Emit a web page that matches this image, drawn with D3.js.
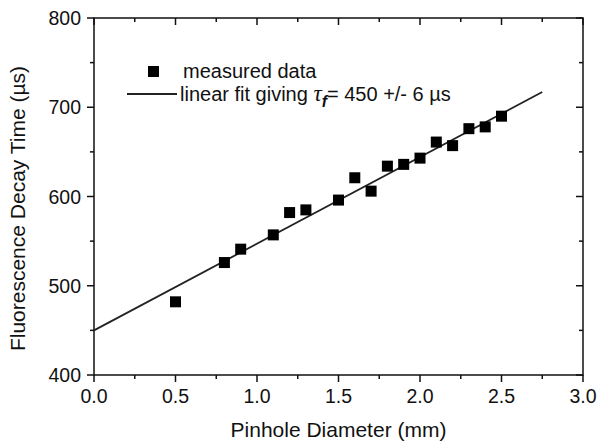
<!DOCTYPE html>
<html>
<head>
<meta charset="utf-8">
<script src="https://cdn.jsdelivr.net/npm/d3@7"></script>
<style>
  body { margin: 0; background: #fff; }
  text { font-family: "Liberation Sans", Arial, sans-serif; fill: #111; }
</style>
</head>
<body>
<svg id="chart"></svg>
<script>
// measured points
const diameters = [0.5, 0.8, 0.9, 1.1, 1.2, 1.3, 1.5, 1.6, 1.7, 1.8, 1.9, 2.0, 2.1, 2.2, 2.3, 2.4, 2.5];
const decayTimes = [482, 526, 541, 557, 582, 585, 596, 621, 606, 634, 636, 643, 661, 657, 676, 678, 690];

// linear fit end points
const fitX = [0, 2.75];
const fitY = [450, 717];

const xTicks = [0, 0.5, 1.0, 1.5, 2.0, 2.5, 3.0];
const yTicks = [400, 500, 600, 700, 800];

const width = 598, height = 444;
const margin = { top: 18, right: 15, bottom: 69, left: 94 };

const svg = d3.select("#chart").attr("width", width).attr("height", height);

const x = d3.scaleLinear().domain([0, 3]).range([margin.left, width - margin.right]);
const y = d3.scaleLinear().domain([400, 800]).range([height - margin.bottom, margin.top]);

const xMinor = d3.range(0.25, 3, 0.5);
const yMinor = d3.range(450, 800, 100);

function ticks(g, scale, vals, len, orient) {
  g.selectAll("line").data(vals).enter().append("line")
    .attr("stroke", "#111").attr("stroke-width", 1.5)
    .each(function (d) {
      const s = d3.select(this);
      if (orient === "bottom") s.attr("x1", scale(d)).attr("x2", scale(d)).attr("y1", y(400)).attr("y2", y(400) + len);
      if (orient === "top") s.attr("x1", scale(d)).attr("x2", scale(d)).attr("y1", y(800)).attr("y2", y(800) + len);
      if (orient === "left") s.attr("y1", scale(d)).attr("y2", scale(d)).attr("x1", x(0)).attr("x2", x(0) - len);
      if (orient === "right") s.attr("y1", scale(d)).attr("y2", scale(d)).attr("x1", x(3)).attr("x2", x(3) - len);
    });
}

// frame
svg.append("rect")
  .attr("x", x(0)).attr("y", y(800))
  .attr("width", x(3) - x(0)).attr("height", y(400) - y(800))
  .attr("fill", "none").attr("stroke", "#111").attr("stroke-width", 1.5);

ticks(svg.append("g"), x, xTicks, 7, "bottom");
ticks(svg.append("g"), x, xMinor, 4, "bottom");
ticks(svg.append("g"), x, xTicks, 7, "top");
ticks(svg.append("g"), x, xMinor, 4, "top");
ticks(svg.append("g"), y, yTicks, 7, "left");
ticks(svg.append("g"), y, yMinor, 4, "left");
ticks(svg.append("g"), y, yTicks, 7, "right");
ticks(svg.append("g"), y, yMinor, 4, "right");

svg.append("g").selectAll("text").data(xTicks).enter().append("text")
  .attr("x", d => x(d)).attr("y", y(400) + 28)
  .attr("text-anchor", "middle").attr("font-size", 19.5)
  .text(d => d3.format(".1f")(d));

svg.append("g").selectAll("text").data(yTicks).enter().append("text")
  .attr("x", x(0) - 13).attr("y", d => y(d) + 7)
  .attr("text-anchor", "end").attr("font-size", 19.5)
  .text(d => d);

svg.append("text")
  .attr("x", (x(0) + x(3)) / 2).attr("y", height - 7)
  .attr("text-anchor", "middle").attr("font-size", 21)
  .text("Pinhole Diameter (mm)");

svg.append("text")
  .attr("transform", `translate(25,${(y(400) + y(800)) / 2 + 12}) rotate(-90)`)
  .attr("text-anchor", "middle").attr("font-size", 21)
  .text("Fluorescence Decay Time (µs)");

// fit line
svg.append("line")
  .attr("x1", x(fitX[0])).attr("y1", y(fitY[0]))
  .attr("x2", x(fitX[1])).attr("y2", y(fitY[1]))
  .attr("stroke", "#222").attr("stroke-width", 1.8);

// points
const sq = 11;
svg.append("g").selectAll("rect").data(diameters).enter().append("rect")
  .attr("x", d => x(d) - sq / 2)
  .attr("y", (d, i) => y(decayTimes[i]) - sq / 2)
  .attr("width", sq).attr("height", sq)
  .attr("fill", "#000");

// legend
const lg = svg.append("g");
lg.append("rect").attr("x", 148).attr("y", 66).attr("width", sq).attr("height", sq).attr("fill", "#000");
lg.append("text").attr("x", 183).attr("y", 78).attr("font-size", 20).text("measured data");
lg.append("line").attr("x1", 127).attr("x2", 177).attr("y1", 94).attr("y2", 94)
  .attr("stroke", "#222").attr("stroke-width", 1.8);
const t = lg.append("text").attr("x", 180).attr("y", 101).attr("font-size", 20);
t.append("tspan").text("linear fit giving ");
t.append("tspan").attr("font-family", "Liberation Serif, serif").attr("font-style", "italic").attr("font-size", 23).text("τ");
t.append("tspan").attr("font-weight", "bold").attr("font-style", "italic").attr("font-size", 16).attr("dy", 6).text("f");
t.append("tspan").attr("dy", -6).text("= 450 +/- 6 µs");
</script>
</body>
</html>
